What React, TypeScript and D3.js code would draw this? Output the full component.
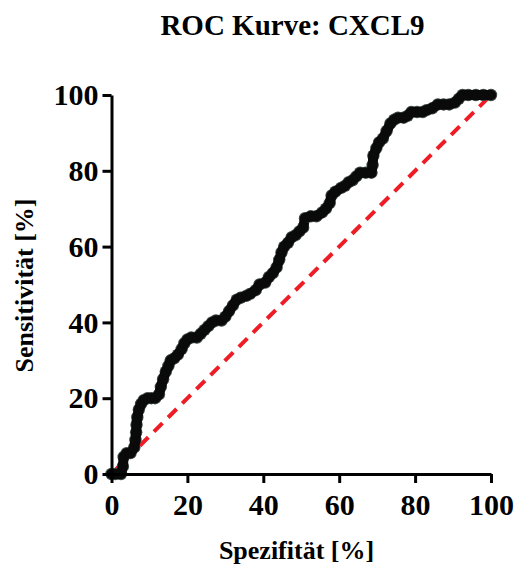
import * as d3 from "d3";
import { useEffect, useRef } from "react";

// ---- data ----
const specificity = [
  0, 1, 2.5, 3, 3.2, 4, 5, 6, 6.3, 6.5, 6.6, 6.8, 7.2, 7.8, 8.5, 9.5, 10.5, 11.5, 12.5, 13,
  13.6, 14.3, 15, 15.6, 16.5, 17.5, 18.5, 19.2, 20, 21, 22.5, 23.5, 24.5, 25.5, 26.5, 27.5, 29, 30, 31, 32,
  33, 34, 35.5, 36.5, 38, 39, 40.5, 41.5, 42.5, 43.5, 44.2, 44.8, 45.5, 46.5, 47.5, 48.5, 49.5, 50.5, 51, 52.5,
  54, 55.5, 56.5, 57.5, 58, 59, 60.5, 61.5, 62.5, 63.5, 64.5, 65.5, 67, 68.5, 68.8, 69, 69.8, 70.5, 71.5, 72.5,
  73.5, 74.5, 75.5, 77, 78, 79, 80.5, 82, 83, 84.5, 86, 87.5, 89, 90.5, 91.5, 92.5, 94, 96, 98, 100,
];
const sensitivity = [
  0, 0, 0, 2, 4.5, 5.5, 5.5, 7, 9, 11, 13, 15, 17, 18.5, 19.5, 20, 20, 20, 21, 23,
  25, 27, 28.5, 30, 30.5, 31.5, 33, 34.5, 35.5, 36, 36, 37, 38, 39, 40, 40.5, 40.5, 41.5, 43, 44.5,
  46, 46.5, 47, 47.5, 48.5, 50, 50.5, 52, 53, 54.5, 56.5, 58.5, 60, 61, 62.5, 63, 64, 65, 67.5, 68,
  68, 69, 70, 71.5, 73.5, 74.5, 75.5, 76, 77, 77.5, 78.5, 79.5, 79.5, 79.5, 81.5, 84, 86, 87.5, 88.5, 90.5,
  92.5, 93.5, 94, 94, 94.5, 95.5, 95.5, 95.5, 96, 96.5, 97.5, 97.5, 97.5, 98, 99, 100, 100, 100, 100, 100,
];
const tickValues = [0, 20, 40, 60, 80, 100];
const referenceLine = [0, 100];

const FONT = "'Liberation Serif', 'Times New Roman', serif";

export default function App() {
  const ref = useRef<SVGSVGElement | null>(null);

  useEffect(() => {
    const width = 517;
    const height = 570;
    const margin = { top: 95, right: 26, bottom: 96, left: 111.5 };
    const innerW = width - margin.left - margin.right;
    const innerH = height - margin.top - margin.bottom;

    const svg = d3.select(ref.current);
    svg.selectAll("*").remove();

    const g = svg.append("g").attr("transform", `translate(${margin.left},${margin.top})`);

    const x = d3.scaleLinear().domain([0, 100]).range([0, innerW]);
    const y = d3.scaleLinear().domain([0, 100]).range([innerH, 0]);

    // diagonal reference line (behind curve)
    g.append("line")
      .attr("x1", x(referenceLine[0]))
      .attr("y1", y(referenceLine[0]))
      .attr("x2", x(referenceLine[1]))
      .attr("y2", y(referenceLine[1]))
      .attr("stroke", "#ee1c25")
      .attr("stroke-width", 4)
      .attr("stroke-dasharray", "12,8");

    // ROC curve
    const pts = specificity.map((s, i) => [s, sensitivity[i]] as [number, number]);

    g.append("g")
      .selectAll("circle")
      .data(pts)
      .join("circle")
      .attr("cx", (d) => x(d[0]))
      .attr("cy", (d) => y(d[1]))
      .attr("r", 6.2)
      .attr("fill", "#3c4744");

    g.append("path")
      .datum(pts)
      .attr("fill", "none")
      .attr("stroke", "#0a0a0a")
      .attr("stroke-width", 10)
      .attr("stroke-linejoin", "round")
      .attr("stroke-linecap", "round")
      .attr("d", d3.line<[number, number]>().x((d) => x(d[0])).y((d) => y(d[1])));

    g.append("g")
      .selectAll("circle")
      .data(pts)
      .join("circle")
      .attr("cx", (d) => x(d[0]))
      .attr("cy", (d) => y(d[1]))
      .attr("r", 5)
      .attr("fill", "#0a0a0a");

    // axes
    const xAxis = g.append("g")
      .attr("transform", `translate(0,${innerH})`)
      .call(d3.axisBottom(x).tickValues(tickValues).tickSize(9).tickSizeOuter(0).tickPadding(11).tickFormat(d3.format("d")));
    const yAxis = g.append("g")
      .call(d3.axisLeft(y).tickValues(tickValues).tickSize(9).tickSizeOuter(0).tickPadding(4).tickFormat(d3.format("d")));

    [xAxis, yAxis].forEach((a) => {
      a.select(".domain").attr("stroke", "#000").attr("stroke-width", 3);
      a.selectAll(".tick line").attr("stroke", "#000").attr("stroke-width", 3);
      a.selectAll(".tick text")
        .attr("fill", "#000")
        .attr("font-family", FONT)
        .attr("font-weight", 700)
        .attr("font-size", 30);
    });

    // title & axis labels
    svg.append("text")
      .attr("x", 292.5)
      .attr("y", 35)
      .attr("text-anchor", "middle")
      .attr("font-family", FONT)
      .attr("font-weight", 700)
      .attr("font-size", 29)
      .text("ROC Kurve: CXCL9");

    svg.append("text")
      .attr("x", 296.5)
      .attr("y", 559)
      .attr("text-anchor", "middle")
      .attr("font-family", FONT)
      .attr("font-weight", 700)
      .attr("font-size", 26)
      .text("Spezifität [%]");

    svg.append("text")
      .attr("transform", "translate(33,285.5) rotate(-90)")
      .attr("text-anchor", "middle")
      .attr("font-family", FONT)
      .attr("font-weight", 700)
      .attr("font-size", 26)
      .text("Sensitivität [%]");
  }, []);

  return (
    <svg
      ref={ref}
      width={517}
      height={570}
      style={{ position: "absolute", left: 0, top: 0, background: "#fff" }}
    />
  );
}
